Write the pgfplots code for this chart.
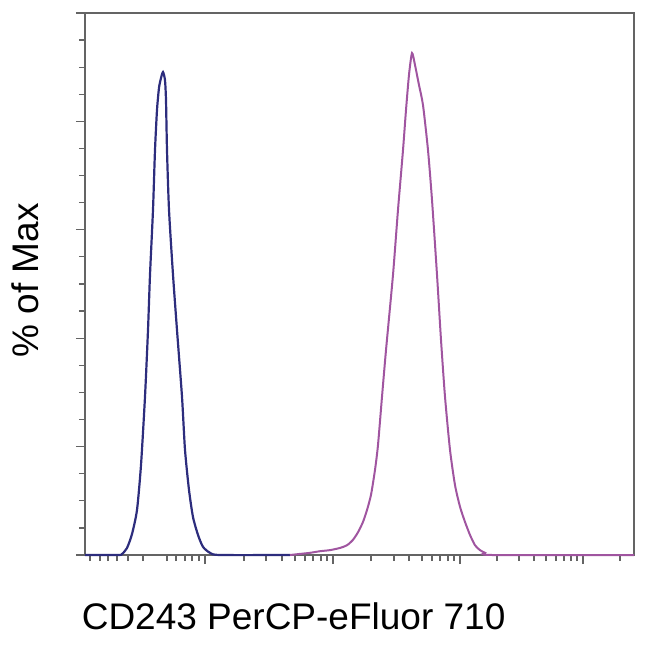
\documentclass[border=0pt]{standalone}
\usepackage{fontspec}
\setmainfont{Liberation Sans}
\usepackage{pgfplots}
\pgfplotsset{compat=1.18}
\definecolor{bluec}{RGB}{45,45,125}
\definecolor{pinkc}{RGB}{160,85,160}
\definecolor{axc}{RGB}{100,100,100}
\begin{document}
\begin{tikzpicture}
\useasboundingbox (-85bp,-90bp) rectangle (565bp,555bp);
\begin{axis}[
  scale only axis,
  width=549bp, height=542bp,
  xmin=85, xmax=634, ymin=0, ymax=100,
  axis line style={axc, line width=2.8bp},
  tick style={axc, line width=1.2bp},
  tick align=outside,
  major tick length=9bp,
  minor tick length=6bp,
  xtick={205,333,460,583},
  minor xtick={90,100,108,117,128,143,167,176,185,192,199,244,266,282,295,305,313,321,327,371,394,409,422,432,440,448,454,497,519,534,546,556,564,571,577,620},
  ytick={0,20,40,60,80,100},
  minor ytick={5,10,15,25,30,35,45,50,55,65,70,75,85,90,95},
  xticklabels={}, yticklabels={},
  xtick pos=bottom, ytick pos=left,
  xlabel={\fontsize{37bp}{40bp}\selectfont CD243 PerCP-eFluor 710},
  ylabel={\fontsize{37bp}{40bp}\selectfont \% of Max},
  xlabel style={at={(axis description cs:0.380,-0.138)}, anchor=base},
  ylabel style={at={(axis description cs:-0.108,0.507)}, anchor=center, rotate=0},
  clip=false,
]
\addplot[bluec, line width=2.2bp, smooth, tension=0.4] coordinates {
(85,0)(118,0)(122,0.18)(127,1.29)(132,3.87)(137,8.3)(141,16.6)(145,29.2)(148,41.5)(150,51.7)(153,63.7)(155,74.7)(157,82.1)(159,86.2)(161,88.0)(163,89.1)(165,87.6)(166,83.9)(167,74.7)(169,63.7)(173,51.7)(177,41.5)(182,29.2)(185,19.4)(189,12.0)(193,7.0)(198,3.7)(203,1.5)(210,0.4)(220,0)(290,0)
};
\addplot[pinkc, line width=2.0bp, smooth, tension=0.4] coordinates {
(290,0)(300,0.2)(310,0.4)(320,0.7)(330,0.9)(340,1.3)(347,1.8)(353,2.8)(358,4.2)(363,6.1)(367,8.3)(371,11.1)(375,15.7)(378,20.3)(382,29.2)(386,37.8)(393,51.7)(398,63.7)(403,74.7)(406,82.1)(409,88.6)(412,92.6)(415,90.4)(419,86.7)(423,83.0)(428,74.7)(432,65.5)(437,51.7)(441,39.7)(445,29.2)(450,19.4)(455,12.9)(460,8.9)(465,6.1)(470,3.7)(475,1.8)(480,0.9)(485,0.4)(492,0)(634,0)
};
\end{axis}
\end{tikzpicture}
\end{document}
